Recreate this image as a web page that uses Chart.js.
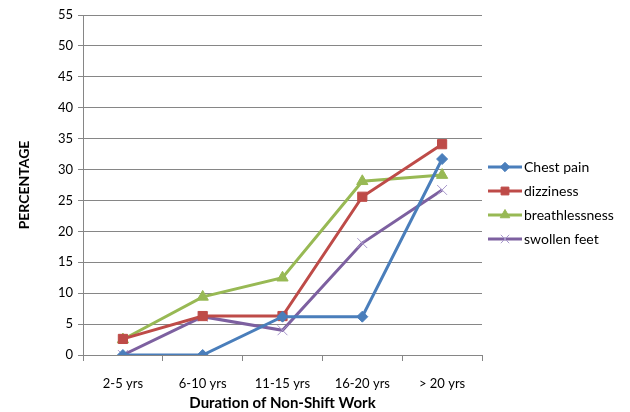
<!DOCTYPE html>
<html><head><meta charset="utf-8">
<script src="https://cdn.jsdelivr.net/npm/chart.js@4/dist/chart.umd.min.js"></script>
<style>html,body{margin:0;padding:0;background:#fff}#wrap{width:630px;height:412px}</style>
</head><body><div id="wrap"><canvas id="c" width="630" height="412"></canvas></div>
<script>
const categories = ["2-5 yrs","6-10 yrs","11-15 yrs","16-20 yrs","> 20 yrs"];
const chestPain = [0, 0, 6.2, 6.2, 31.7];
const dizziness = [2.6, 6.3, 6.3, 25.6, 34.1];
const breathlessness = [2.5, 9.4, 12.5, 28.1, 29.1];
const swollenFeet = [0, 6.2, 4.0, 18.1, 26.7];
const yTicks = [0,5,10,15,20,25,30,35,40,45,50,55];

const FONT = "Lato, 'Liberation Sans', sans-serif";

const legendPlugin = {
  id: 'sideLegend',
  afterDraw(chart) {
    const ctx = chart.ctx;
    const x0 = chart.chartArea.right + 6;
    const ys = [167, 191, 215, 239];
    chart.data.datasets.forEach((ds, i) => {
      const y = ys[i];
      ctx.save();
      ctx.strokeStyle = ds.borderColor;
      ctx.lineWidth = 3;
      ctx.beginPath(); ctx.moveTo(x0, y); ctx.lineTo(x0 + 34, y); ctx.stroke();
      ctx.fillStyle = ds.pointBackgroundColor;
      ctx.strokeStyle = ds.pointBorderColor;
      ctx.lineWidth = ds.pointBorderWidth;
      Chart.helpers.drawPoint(ctx, {pointStyle: ds.pointStyle, radius: ds.legendRadius, borderWidth: ds.pointBorderWidth, rotation: 0}, x0 + 17, y);
      ctx.fillStyle = '#000';
      ctx.font = "14px " + FONT;
      ctx.textBaseline = 'middle';
      ctx.textAlign = 'left';
      ctx.fillText(ds.label, x0 + 36, y);
      ctx.restore();
    });
  }
};

function ds(label, data, color, style, radius, bw, pbColor) {
  return {
    label, data, borderColor: color, backgroundColor: color,
    pointBackgroundColor: color, pointBorderColor: pbColor || color,
    pointStyle: style, pointRadius: radius, pointBorderWidth: bw,
    legendRadius: radius * 0.85,
    borderWidth: 3, tension: 0
  };
}

new Chart(document.getElementById('c'), {
  type: 'line',
  data: {
    labels: categories,
    datasets: [
      ds('Chest pain', chestPain, '#4A7EBB', 'rectRot', 5.5, 1),
      ds('dizziness', dizziness, '#BE4B48', 'rect', 6.5, 1),
      ds('breathlessness', breathlessness, '#98B954', 'triangle', 6.5, 1),
      ds('swollen feet', swollenFeet, '#7D60A0', 'crossRot', 7, 1, '#A898CC')
    ]
  },
  options: {
    responsive: false, animation: false,
    layout: { padding: { left: 16, right: 148, top: 15, bottom: 0 } },
    plugins: { legend: { display: false }, tooltip: { enabled: false } },
    scales: {
      x: {
        offset: true,
        grid: { offset: true, drawOnChartArea: false, drawTicks: true, tickLength: 6, color: '#868686' },
        border: { color: '#868686', width: 1 },
        ticks: { color: '#000', font: { family: FONT, size: 13 }, padding: 15, maxRotation: 0 },
        title: { display: true, text: 'Duration of Non-Shift Work', color: '#000', font: { family: FONT, size: 15, weight: 'bold' }, padding: { top: 0, bottom: 0 } },
        afterFit(s) { s.height = 57; }
      },
      y: {
        min: 0, max: 55,
        afterBuildTicks(s) { s.ticks = yTicks.map(v => ({ value: v })); },
        grid: { color: '#868686', tickLength: 5, lineWidth: 1 },
        border: { color: '#868686', width: 1 },
        ticks: { color: '#000', font: { family: FONT, size: 13 }, padding: 5 },
        title: { display: true, text: 'PERCENTAGE', color: '#000', font: { family: FONT, size: 14, weight: 'bold' }, padding: { top: 0, bottom: 4 } },
        afterFit(s) { s.width = 67; }
      }
    }
  },
  plugins: [legendPlugin]
});
</script>
</body></html>
